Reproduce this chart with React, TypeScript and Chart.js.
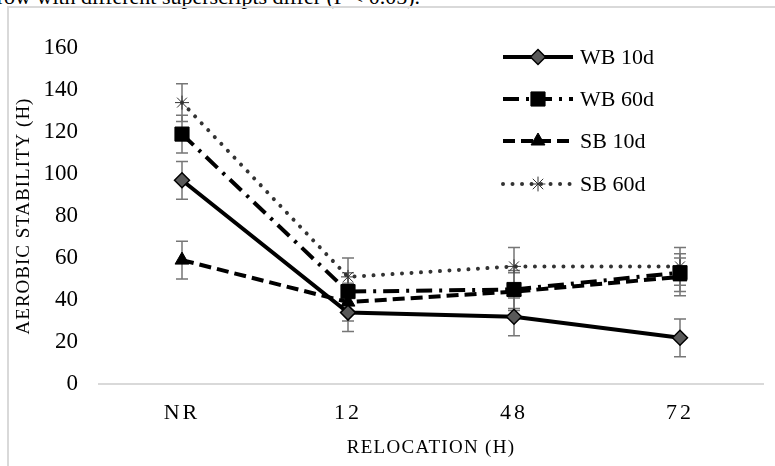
import React, { useEffect, useRef } from "react";
import { Chart, registerables } from "chart.js";
import { drawPoint } from "chart.js/helpers";

Chart.register(...registerables);

// ---- data ----
const categories = ["NR", "12", "48", "72"];
const seriesNames = ["WB 10d", "WB 60d", "SB 10d", "SB 60d"];
const wb10 = [97, 34, 32, 22];
const wb60 = [119, 44, 45, 53];
const sb10 = [59, 39, 44, 51];
const sb60 = [134, 51, 56, 56];
const wb10Err = [9, 9, 9, 9];
const wb60Err = [9, 9, 9, 9];
const sb10Err = [9, 9, 9, 9];
const sb60Err = [9, 9, 9, 9];
const yMin = 0;
const yMax = 160;
const yStep = 20;
const xTitle = "RELOCATION (H)";
const yTitle = "AEROBIC STABILITY (H)";
const caption = "row with different superscripts differ (P < 0.05).";

const errors = [wb10Err, wb60Err, sb10Err, sb60Err];
const FONT = "'Liberation Serif', 'Times New Roman', serif";

const errorBarPlugin = {
  id: "errorBars",
  beforeDatasetsDraw(chart: any) {
    const ctx = chart.ctx;
    const ys = chart.scales.y;
    chart.data.datasets.forEach((ds: any, i: number) => {
      const meta = chart.getDatasetMeta(i);
      const errs = errors[i];
      meta.data.forEach((pt: any, j: number) => {
        const v = ds.data[j];
        const e = errs[j];
        const x = pt.x;
        const yt = ys.getPixelForValue(v + e);
        const yb = ys.getPixelForValue(v - e);
        ctx.save();
        ctx.strokeStyle = "#767676";
        ctx.lineWidth = 1.5;
        ctx.setLineDash([]);
        ctx.beginPath();
        ctx.moveTo(x, yt);
        ctx.lineTo(x, yb);
        ctx.moveTo(x - 6, yt);
        ctx.lineTo(x + 6, yt);
        ctx.moveTo(x - 6, yb);
        ctx.lineTo(x + 6, yb);
        ctx.stroke();
        ctx.restore();
      });
    });
  },
};

const legendPlugin = {
  id: "customLegend",
  afterDraw(chart: any) {
    const ctx = chart.ctx;
    const rows = [49, 91, 133, 176];
    const x0 = 495;
    const x1 = 565;
    const xm = 530;
    chart.data.datasets.forEach((ds: any, i: number) => {
      const y = rows[i];
      ctx.save();
      ctx.strokeStyle = ds.borderColor;
      ctx.lineWidth = ds.borderWidth;
      ctx.lineCap = ds.borderCapStyle || "butt";
      ctx.setLineDash(ds.borderDash || []);
      ctx.beginPath();
      ctx.moveTo(x0, y);
      ctx.lineTo(x1, y);
      ctx.stroke();
      ctx.setLineDash([]);
      ctx.fillStyle = ds.pointBackgroundColor;
      ctx.strokeStyle = ds.pointBorderColor;
      ctx.lineWidth = ds.pointBorderWidth;
      drawPoint(
        ctx,
        {
          pointStyle: ds.pointStyle,
          radius: ds.pointRadius,
          rotation: 0,
          borderWidth: ds.pointBorderWidth,
        } as any,
        xm,
        y
      );
      ctx.fillStyle = "#000";
      ctx.font = `22px ${FONT}`;
      ctx.textBaseline = "middle";
      ctx.textAlign = "left";
      ctx.fillText(seriesNames[i], 572, y + 1);
      ctx.restore();
    });
  },
};

function withSpacing(chart: any, spacing: string, fn: () => void) {
  const ctx = chart.ctx as any;
  const prev = ctx.letterSpacing;
  ctx.letterSpacing = spacing;
  fn();
  ctx.letterSpacing = prev || "0px";
}

const spacingPlugin = {
  id: "letterSpacing",
  afterLayout(chart: any) {
    const sx = chart.scales.x;
    if (sx && !sx.__spaced) {
      const origL = sx.drawLabels.bind(sx);
      const origT = sx.drawTitle.bind(sx);
      sx.drawLabels = (ca: any) => withSpacing(chart, "3px", () => origL(ca));
      sx.drawTitle = (ca: any) => withSpacing(chart, "1.3px", () => origT(ca));
      sx.__spaced = true;
    }
    const sy = chart.scales.y;
    if (sy && !sy.__spaced) {
      const origT = sy.drawTitle.bind(sy);
      sy.drawTitle = (ca: any) => withSpacing(chart, "1px", () => origT(ca));
      sy.__spaced = true;
    }
  },
};

export default function App() {
  const ref = useRef<HTMLCanvasElement | null>(null);

  useEffect(() => {
    if (!ref.current) return;
    const chart = new Chart(ref.current, {
      type: "line",
      data: {
        labels: categories,
        datasets: [
          {
            label: seriesNames[0],
            data: wb10,
            borderColor: "#000000",
            borderWidth: 4,
            borderDash: [],
            pointStyle: "rectRot",
            pointRadius: 7.5,
            pointBackgroundColor: "#595959",
            pointBorderColor: "#000000",
            pointBorderWidth: 1.5,
            tension: 0,
            order: 1,
          },
          {
            label: seriesNames[1],
            data: wb60,
            borderColor: "#000000",
            borderWidth: 4,
            borderDash: [16, 7, 3, 7],
            pointStyle: "rect",
            pointRadius: 10,
            pointBackgroundColor: "#000000",
            pointBorderColor: "#000000",
            pointBorderWidth: 1,
            tension: 0,
            order: 2,
          },
          {
            label: seriesNames[2],
            data: sb10,
            borderColor: "#000000",
            borderWidth: 4,
            borderDash: [12, 6],
            pointStyle: "triangle",
            pointRadius: 8,
            pointBackgroundColor: "#000000",
            pointBorderColor: "#000000",
            pointBorderWidth: 1,
            tension: 0,
            order: 3,
          },
          {
            label: seriesNames[3],
            data: sb60,
            borderColor: "#333333",
            borderWidth: 4,
            borderDash: [0.01, 9.5],
            borderCapStyle: "round",
            pointStyle: "star",
            pointRadius: 7,
            pointBackgroundColor: "#333333",
            pointBorderColor: "#333333",
            pointBorderWidth: 1,
            tension: 0,
            order: 4,
          },
        ] as any,
      },
      options: {
        responsive: false,
        animation: false,
        devicePixelRatio: 1,
        layout: { padding: { top: 40, right: 12, left: 0, bottom: 0 } },
        plugins: {
          legend: { display: false },
          tooltip: { enabled: false },
        },
        scales: {
          x: {
            offset: true,
            grid: { display: false, drawTicks: false },
            border: { display: true, color: "#d9d9d9", width: 2 },
            ticks: {
              color: "#000",
              padding: 16,
              maxRotation: 0,
              font: { family: FONT, size: 22 },
            },
            title: {
              display: true,
              text: xTitle,
              color: "#000",
              font: { family: FONT, size: 19 },
              padding: { top: 0, bottom: 7 },
            },
            afterFit(scale: any) {
              scale.height = 82;
            },
          },
          y: {
            min: yMin,
            max: yMax,
            grid: { display: false, drawTicks: false },
            border: { display: false },
            ticks: {
              stepSize: yStep,
              color: "#000",
              padding: 21,
              font: { family: FONT, size: 23 },
            },
            title: {
              display: true,
              text: yTitle,
              color: "#000",
              font: { family: FONT, size: 19 },
              padding: { top: 5, bottom: 0 },
            },
            afterFit(scale: any) {
              scale.width = 91;
            },
          },
        },
      },
      plugins: [errorBarPlugin, legendPlugin, spacingPlugin],
    });
    return () => chart.destroy();
  }, []);

  return (
    <div
      style={{
        position: "fixed",
        left: 0,
        top: 0,
        width: 775,
        height: 466,
        overflow: "hidden",
        background: "#fff",
      }}
    >
      <div
        style={{
          position: "absolute",
          right: 355,
          top: -14,
          whiteSpace: "nowrap",
          fontFamily: FONT,
          fontSize: 22,
          lineHeight: "22px",
          color: "#000",
        }}
      >
        {caption}
      </div>
      <div
        style={{
          position: "absolute",
          left: 7,
          top: 6,
          width: 900,
          height: 600,
          border: "2px solid #d9d9d9",
        }}
      />
      <canvas
        ref={ref}
        width={767}
        height={458}
        style={{ position: "absolute", left: 8, top: 8, width: 767, height: 458 }}
      />
    </div>
  );
}
